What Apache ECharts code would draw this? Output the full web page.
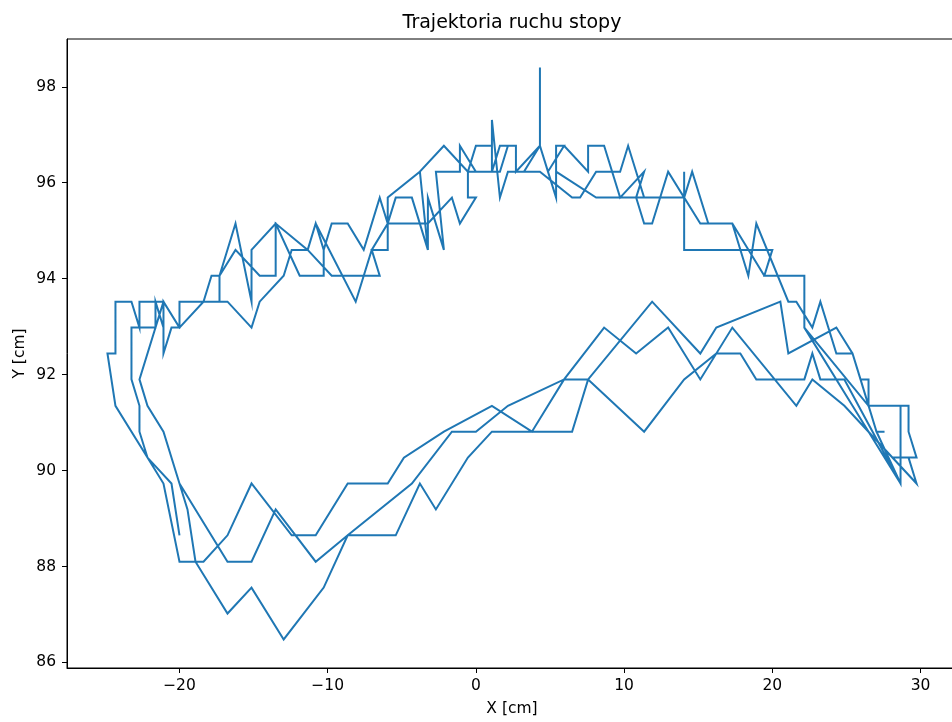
<!DOCTYPE html>
<html>
<head>
<meta charset="utf-8">
<script src="https://cdn.jsdelivr.net/npm/echarts@6/dist/echarts.min.js"></script>
<style>
  html, body { margin: 0; padding: 0; background: #fff; overflow: hidden; }
  /* the plot frame runs a few pixels past the right edge of the window */
  #chart { width: 964px; height: 722px; }
</style>
</head>
<body>
<div id="chart"></div>
<script>
// Foot trajectory samples [cm], split into the phases of the recording.
const liftX = [-20.00, -20.54, -22.16];
const liftY = [88.65, 89.73, 90.27];

const stride1X = [-22.70, -22.70, -23.24, -23.24, -21.62, -21.62, -21.08, -21.08, -20.00, -18.38, -17.84, -17.30, -16.22, -15.14, -15.14, -13.51, -11.89, -10.27, -10.27, -9.73, -8.65, -7.57, -6.49, -5.95, -3.24, -1.62, -1.08, 0.00, -0.54, -0.54, 0.00, 1.08, 1.08, 1.08, 1.62, 2.16, 3.24, 4.32, 4.32, 4.32, 5.41, 5.41, 5.95, 7.57, 7.57, 8.65, 9.73, 11.35, 10.81, 11.35, 11.89, 12.97, 14.05, 14.59, 15.68, 17.30, 18.38, 18.92, 21.08, 21.62, 22.70, 23.24, 24.32, 25.41, 25.95, 26.49, 26.49, 29.19, 29.19, 29.73, 28.11, 29.19, 29.73];
const stride1Y = [90.81, 91.35, 91.90, 92.98, 92.98, 93.52, 92.98, 93.52, 92.98, 93.52, 94.06, 94.06, 95.15, 93.52, 94.60, 95.15, 94.06, 94.06, 94.60, 95.15, 95.15, 94.60, 95.69, 95.15, 95.15, 95.69, 95.15, 95.69, 95.69, 96.23, 96.77, 96.77, 96.23, 97.31, 95.69, 96.23, 96.23, 96.77, 98.40, 96.77, 95.69, 96.77, 96.77, 96.23, 96.77, 96.77, 95.69, 96.23, 95.69, 95.15, 95.15, 96.23, 95.69, 96.23, 95.15, 95.15, 94.06, 95.15, 93.52, 93.52, 92.98, 93.52, 92.44, 92.44, 91.90, 91.90, 91.35, 91.35, 90.81, 90.27, 90.27, 90.27, 89.73];

const return1X = [24.86, 22.70, 21.62, 17.30, 15.14, 12.97, 10.81, 8.65, 5.95, 3.78, 1.08, -2.16, -4.86, -5.95, -8.65, -10.81, -12.43, -15.14, -16.76, -18.38, -20.00, -21.08, -22.16];
const return1Y = [91.35, 91.90, 91.35, 92.98, 91.90, 92.98, 92.44, 92.98, 91.90, 90.81, 91.35, 90.81, 90.27, 89.73, 89.73, 88.65, 88.65, 89.73, 88.65, 88.10, 88.10, 89.73, 90.27];

const stride2X = [-24.32, -24.86, -24.32, -24.32, -23.24, -22.70, -22.70, -21.08, -21.08, -20.54, -20.00, -20.00, -18.38, -17.30, -17.30, -16.22, -14.59, -13.51, -13.51, -11.35, -9.73, -6.49, -7.03, -5.95, -5.95, -3.78, -3.24, -3.24, -2.16, -2.70, -1.08, -1.08, 0.00, 1.62, 2.16, 2.70, 2.70, 4.32, 6.49, 7.03, 8.11, 9.73, 10.27, 11.35, 14.05, 14.05, 14.05, 20.00, 19.46, 22.16, 22.16, 25.41, 28.65];
const stride2Y = [91.35, 92.44, 92.44, 93.52, 93.52, 92.98, 93.52, 93.52, 92.44, 92.98, 92.98, 93.52, 93.52, 93.52, 94.06, 94.60, 94.06, 94.06, 95.15, 94.60, 94.06, 94.06, 94.60, 94.60, 95.69, 96.23, 94.60, 95.69, 94.60, 96.23, 96.23, 96.77, 96.23, 96.23, 96.77, 96.77, 96.23, 96.23, 95.69, 95.69, 96.23, 96.23, 96.77, 95.69, 95.69, 96.23, 94.60, 94.60, 94.06, 94.06, 92.98, 91.35, 89.73];

const return2X = [27.03, 27.57, 27.03, 25.95, 25.41, 24.32, 21.08, 20.54, 16.22, 15.14, 11.89, 7.57, 6.49, 1.08, -0.54, -2.70, -3.78, -5.41, -8.65, -10.27, -12.97, -15.14, -16.76, -18.92, -19.46, -20.00];
const return2Y = [90.81, 90.81, 90.81, 91.90, 92.44, 92.98, 92.44, 93.52, 92.98, 92.44, 93.52, 91.90, 90.81, 90.81, 90.27, 89.19, 89.73, 88.65, 88.65, 87.56, 86.48, 87.56, 87.02, 88.10, 89.19, 89.73];

const stride3X = [-21.08, -22.16, -22.70, -21.08, -20.00, -18.38, -16.76, -15.14, -14.59, -12.97, -12.43, -11.35, -10.81, -10.27, -10.81, -8.11, -7.03, -5.95, -5.41, -4.32, -3.24, -3.78, -2.16, -0.54, 1.08, 1.62, 2.70, 2.70, 4.32, 4.86, 5.95, 5.41, 5.41, 8.11, 14.05, 15.14, 17.30, 19.46, 22.16, 22.16, 26.49, 28.65, 28.65];
const stride3Y = [90.81, 91.35, 91.90, 93.52, 92.98, 93.52, 93.52, 92.98, 93.52, 94.06, 94.60, 94.60, 95.15, 94.60, 95.15, 93.52, 94.60, 95.15, 95.69, 95.69, 94.60, 96.23, 96.77, 96.23, 96.23, 96.77, 96.77, 96.23, 96.77, 96.23, 96.77, 96.77, 96.23, 95.69, 95.69, 95.15, 95.15, 94.06, 94.06, 92.98, 91.35, 91.35, 89.73];

const return3X = [24.86, 23.24, 22.70, 22.16, 18.92, 17.84, 16.22, 14.05, 11.35, 7.57, 5.95, 2.16, 0.00, -1.62, -4.32, -8.65, -10.81, -13.51, -15.14, -16.76, -20.00];
const return3Y = [91.90, 91.90, 92.44, 91.90, 91.90, 92.44, 92.44, 91.90, 90.81, 91.90, 91.90, 91.35, 90.81, 90.81, 89.73, 88.65, 88.10, 89.19, 88.10, 88.10, 89.73];

const xTicks = [-20, -10, 0, 10, 20, 30];
const yTicks = [86, 88, 90, 92, 94, 96, 98];

// Join the phases into one continuous path.
const pathX = [].concat(liftX, stride1X, return1X, stride2X, return2X, stride3X, return3X);
const pathY = [].concat(liftY, stride1Y, return1Y, stride2Y, return2Y, stride3Y, return3Y);
const points = pathX.map((x, i) => [x, pathY[i]]);

// 5% padding around the data range on both axes
const xMinData = Math.min(...pathX), xMaxData = Math.max(...pathX);
const yMinData = Math.min(...pathY), yMaxData = Math.max(...pathY);
const xPad = (xMaxData - xMinData) * 0.05;
const yPad = (yMaxData - yMinData) * 0.05;

const FONT = 'DejaVu Sans';
const fmt = v => String(v).replace('-', '\u2212');

const chart = echarts.init(document.getElementById('chart'), null, { renderer: 'canvas' });
chart.setOption({
  animation: false,
  backgroundColor: '#ffffff',
  title: {
    text: 'Trajektoria ruchu stopy',
    left: 512,
    top: 14,
    textAlign: 'center',
    padding: 0,
    textStyle: { fontFamily: FONT, fontSize: 19, fontWeight: 'normal', color: '#000' }
  },
  grid: {
    left: 67, top: 39, width: 890, height: 630,
    show: true, borderColor: '#000', borderWidth: 1, backgroundColor: 'transparent'
  },
  xAxis: {
    type: 'value',
    min: xMinData - xPad,
    max: xMaxData + xPad,
    name: 'X [cm]',
    nameLocation: 'middle',
    nameGap: 33,
    nameTextStyle: { fontFamily: FONT, fontSize: 15.5, color: '#000' },
    axisLine: { show: true, onZero: false, lineStyle: { color: '#000', width: 1 } },
    axisTick: { show: true, inside: false, length: 5, customValues: xTicks, lineStyle: { color: '#000', width: 1 } },
    axisLabel: { customValues: xTicks, formatter: fmt, margin: 10, fontFamily: FONT, fontSize: 15.5, color: '#000' },
    splitLine: { show: false }
  },
  yAxis: {
    type: 'value',
    min: yMinData - yPad,
    max: yMaxData + yPad,
    name: 'Y [cm]',
    nameLocation: 'middle',
    nameGap: 39,
    nameMoveOverlap: false,
    nameRotate: 90,
    nameTextStyle: { fontFamily: FONT, fontSize: 15.5, color: '#000' },
    axisLine: { show: true, onZero: false, lineStyle: { color: '#000', width: 1 } },
    axisTick: { show: true, inside: false, length: 5, customValues: yTicks, lineStyle: { color: '#000', width: 1 } },
    axisLabel: { customValues: yTicks, formatter: fmt, margin: 11, fontFamily: FONT, fontSize: 15.5, color: '#000' },
    splitLine: { show: false }
  },
  series: [{
    type: 'line',
    data: points,
    showSymbol: false,
    symbol: 'none',
    smooth: false,
    clip: true,
    lineStyle: { color: '#1f77b4', width: 2, join: 'miter' }
  }]
});
</script>
</body>
</html>
